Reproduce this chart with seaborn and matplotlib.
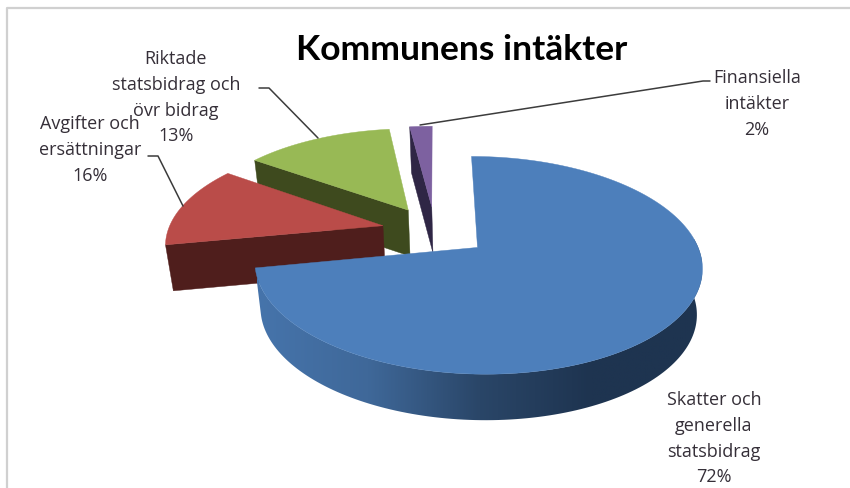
import numpy as np
import seaborn as sns
import matplotlib.pyplot as plt
from matplotlib.patches import Polygon

# labels as printed on the chart, drawn_share = size of the slices as they look in the picture
label_lines = [
    ['Skatter och', 'generella', 'statsbidrag'],
    ['Avgifter och', 'ersättningar'],
    ['Riktade', 'statsbidrag och', 'övr bidrag'],
    ['Finansiella', 'intäkter'],
]
label_percent = [72, 16, 13, 2]
drawn_share = [72.0, 12.8, 13.2, 2.0]
top_colors = ['#4d7fbb', '#ba4c49', '#98b955', '#7d61a0']
side_colors = ['#1e3450', '#4f1e1c', '#3e4a1e', '#2f2645']

# pie geometry, pixels of the 850x489 picture
CX, CY = 435, 232
RX, RY = 215, 100.6
PERSP = 0.16
EXPLODE = 0.25
DEPTH = 46
START = 0


def project(u, v):
    w = 1 + PERSP * v
    return CX + RX * u / w, CY - RY * v / w


def drop(x, y):
    # bottom of the pie is a bit narrower than the top
    return 480 + (x - 480) * 0.975, y + DEPTH


sns.set_style("white")
plt.rcParams['font.family'] = ['Open Sans', 'DejaVu Sans']

fig, ax = plt.subplots(figsize=(8.5, 4.89), dpi=100)
ax.set_position([0, 0, 1, 1])

# frame of the screenshot
ax.plot([7.5, 7.5, 850], [489, 9, 9], color='#d0d0d0', lw=1.6)

angles = START + np.cumsum([0] + drawn_share) * 3.6
blue_fade = sns.blend_palette(['#4674ab', '#3f6899', '#2a4668', '#1e3450', '#1e3450'], n_colors=256)

# back slices first, blue one on top
for i in [3, 2, 1, 0]:
    t0, t1 = np.radians(angles[i]), np.radians(angles[i + 1])
    mid = (t0 + t1) / 2
    u0, v0 = EXPLODE * np.sin(mid), EXPLODE * np.cos(mid)
    t = np.linspace(t0, t1, 200)
    rx, ry = project(u0 + np.sin(t), v0 + np.cos(t))
    px, py = project(u0, v0)
    bx, by = drop(rx, ry)
    z = 2 + 3 - i

    if i == 0:
        # only the front of the rim shows, gradient runs along x
        front = np.cos(t) < 0.1
        rim = Polygon(np.c_[np.r_[rx[front], bx[front][::-1]], np.r_[ry[front], by[front][::-1]]],
                      transform=ax.transData, fc='none', ec='none')
        ax.add_patch(rim)
        grad = np.array(blue_fade)[None, :, :]
        im = ax.imshow(grad, extent=[257, 702, 440, 240], aspect='auto', zorder=z)
        im.set_clip_path(rim)
    else:
        # cut face on the left side of the slice
        qx, qy = drop(px, py)
        ax.fill([rx[0], px, qx, bx[0]], [ry[0], py, qy, by[0]],
                color=side_colors[i], lw=0.3, zorder=z)

    ax.fill(np.r_[px, rx], np.r_[py, ry], color=top_colors[i], lw=0.3, zorder=z)

# leader lines
leader_x = [[318, 269, 259], [183, 158, 148], [420, 703, 710]]
leader_y = [[139, 89, 89], [207, 157, 157], [126, 82, 82]]
for xs, ys in zip(leader_x, leader_y):
    ax.plot(xs, ys, color='#3c3c3c', lw=1.1, zorder=8)

label_x = [714, 90, 176, 757]
label_y = [400, 124, 59, 78]
for lines, pct, x, y in zip(label_lines, label_percent, label_x, label_y):
    for n, line in enumerate(lines + [f'{pct}%']):
        ax.text(x, y + n * 25.8, line, ha='center', va='center', fontsize=13,
                color='#352f38', zorder=9)

ax.text(462, 50, 'Kommunens intäkter', ha='center', va='center', fontsize=25.5,
        fontfamily='Lato', fontweight='bold', color='black', zorder=9)

ax.set_xlim(0, 850)
ax.set_ylim(489, 0)
ax.axis('off')

fig.savefig('out.png', dpi=100)
